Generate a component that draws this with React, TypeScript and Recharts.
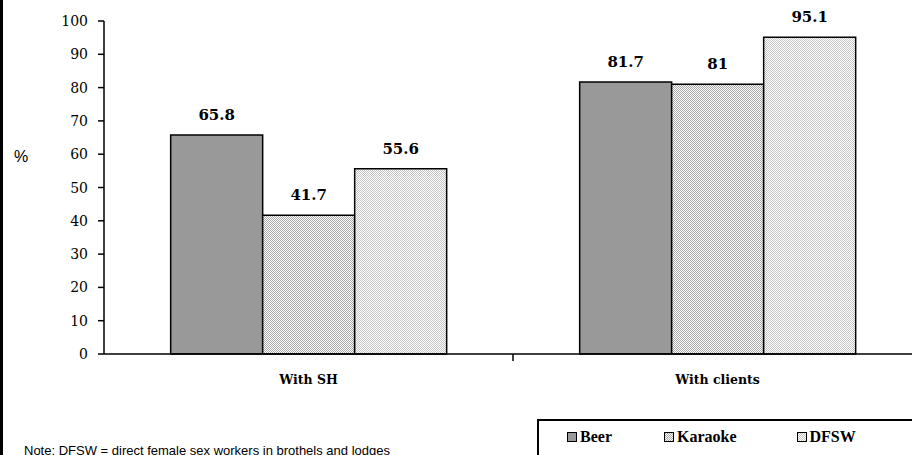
import React from 'react';
import {
    BarChart,
    Bar,
    XAxis,
    YAxis,
    LabelList,
} from 'recharts';

const categories = ['With SH', 'With clients'];
const beer = [65.8, 81.7];
const karaoke = [41.7, 81];
const dfsw = [55.6, 95.1];
const yTicks = [0, 10, 20, 30, 40, 50, 60, 70, 80, 90, 100];

const seriesNames = ['Beer', 'Karaoke', 'DFSW'];
const seriesFills = ['#999999', 'url(#patKaraoke)', 'url(#patDfsw)'];

const data = categories.map((c, i) => ({
    name: c,
    Beer: beer[i],
    Karaoke: karaoke[i],
    DFSW: dfsw[i],
}));

// the plot runs past the right edge of the frame, so the chart is wider than the page
const W = 912;
const H = 455;
const chartW = 922;
const xAxisHeight = 30;
const margin = { top: 21, right: 0, bottom: 101 - xAxisHeight, left: 0 };
const yAxisWidth = 104;
const plotWidth = chartW - margin.left - margin.right - yAxisWidth;
const band = plotWidth / categories.length;

const svgSerif = 'DejaVu Serif';
const htmlSerif = '"Liberation Serif", "Times New Roman", serif';
const sans = '"Liberation Sans", Arial, sans-serif';

function CategoryTick(props: any) {
    const { x, y, payload, index } = props;
    return (
        <g>
            {index < categories.length - 1 && (
                <line x1={x + band / 2} x2={x + band / 2} y1={y - 8} y2={y - 1} stroke="#000" strokeWidth={1.5} />
            )}
            <text
                x={x}
                y={y + 22}
                textAnchor="middle"
                fontFamily={svgSerif}
                fontWeight={700}
                fontSize={12.5}
                fill="#000"
            >
                {payload.value}
            </text>
        </g>
    );
}

function ValueTick(props: any) {
    const { x, y, payload } = props;
    return (
        <text x={x} y={y + 5} textAnchor="end" fontFamily={svgSerif} fontSize={14} fill="#000">
            {payload.value}
        </text>
    );
}

function BarValue(props: any) {
    const { x, y, width, value } = props;
    return (
        <text
            x={x + width / 2}
            y={y - 15}
            textAnchor="middle"
            fontFamily={svgSerif}
            fontWeight={700}
            fontSize={15}
            fill="#000"
        >
            {value}
        </text>
    );
}

function LegendBox() {
    return (
        <div
            style={{
                position: 'absolute',
                left: 537,
                top: 419,
                width: 380,
                height: 40,
                borderTop: '2px solid #000',
                borderLeft: '2px solid #000',
                display: 'flex',
                alignItems: 'center',
                boxSizing: 'border-box',
                paddingLeft: 28,
                paddingBottom: 6,
                fontFamily: htmlSerif,
                fontWeight: 700,
                fontSize: 16,
            }}
        >
            {seriesNames.map((n, i) => (
                <div key={n} style={{ display: 'flex', alignItems: 'center', marginRight: i === 0 ? 52 : 60 }}>
                    <svg width={10} height={10} style={{ marginRight: 3 }}>
                        <defs>
                            <pattern id={`lg${i}`} width={2} height={2} patternUnits="userSpaceOnUse">
                                <rect width={2} height={2} fill="#ffffff" />
                                <rect x={0} y={0} width={1} height={1} fill={i === 1 ? '#a6a6a6' : '#c4c4c4'} />
                                <rect x={1} y={1} width={1} height={1} fill={i === 1 ? '#a6a6a6' : '#c4c4c4'} />
                            </pattern>
                        </defs>
                        <rect
                            x={0.5}
                            y={0.5}
                            width={9}
                            height={9}
                            fill={i === 0 ? '#999999' : `url(#lg${i})`}
                            stroke="#000"
                            strokeWidth={1}
                        />
                    </svg>
                    <span>{n}</span>
                </div>
            ))}
        </div>
    );
}

export default function App() {
    return (
        <div style={{ position: 'absolute', left: 0, top: 0, width: W, height: H, background: '#fff', overflow: 'hidden' }}>
            <div style={{ position: 'absolute', left: 0, top: 0, width: 3, height: H, background: '#000' }} />
            <div
                style={{
                    position: 'absolute',
                    left: 14,
                    top: 148,
                    fontFamily: sans,
                    fontSize: 16,
                }}
            >
                %
            </div>
            <div
                style={{
                    position: 'absolute',
                    left: 24,
                    top: 443,
                    fontFamily: sans,
                    fontSize: 13,
                    whiteSpace: 'nowrap',
                }}
            >
                Note: DFSW = direct female sex workers in brothels and lodges
            </div>
            <BarChart
                width={chartW}
                height={H}
                data={data}
                margin={margin}
                barCategoryGap="16.3%"
                barGap={0}
                style={{ position: 'absolute', left: 0, top: 0 }}
            >
                <defs>
                    <pattern id="patKaraoke" width={2} height={2} patternUnits="userSpaceOnUse">
                        <rect width={2} height={2} fill="#ffffff" />
                        <rect x={0} y={0} width={1} height={1} fill="#a6a6a6" />
                        <rect x={1} y={1} width={1} height={1} fill="#a6a6a6" />
                    </pattern>
                    <pattern id="patDfsw" width={2} height={2} patternUnits="userSpaceOnUse">
                        <rect width={2} height={2} fill="#ffffff" />
                        <rect x={0} y={0} width={1} height={1} fill="#c4c4c4" />
                        <rect x={1} y={1} width={1} height={1} fill="#c4c4c4" />
                    </pattern>
                </defs>
                <XAxis
                    dataKey="name"
                    height={xAxisHeight}
                    tickLine={false}
                    axisLine={{ stroke: '#000', strokeWidth: 1.5 }}
                    tick={<CategoryTick />}
                    interval={0}
                />
                <YAxis
                    width={yAxisWidth}
                    domain={[0, 100]}
                    ticks={yTicks}
                    interval={0}
                    axisLine={{ stroke: '#000', strokeWidth: 1.5 }}
                    tickLine={{ stroke: '#000', strokeWidth: 1.5 }}
                    tickSize={6}
                    tick={<ValueTick />}
                    tickMargin={10}
                />
                {seriesNames.map((n, i) => (
                    <Bar
                        key={n}
                        dataKey={n}
                        fill={seriesFills[i]}
                        stroke="#000"
                        strokeWidth={1.5}
                        isAnimationActive={false}
                    >
                        <LabelList dataKey={n} content={<BarValue />} />
                    </Bar>
                ))}
            </BarChart>
            <LegendBox />
        </div>
    );
}
